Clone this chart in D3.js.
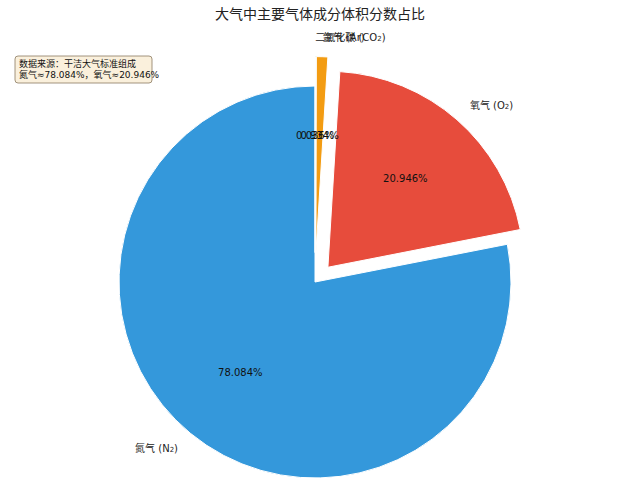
<!DOCTYPE html>
<html>
<head>
<meta charset="utf-8">
<script src="https://cdn.jsdelivr.net/npm/d3@7"></script>
<style>
  body { margin: 0; background: #fff; }
  text { font-family: "DejaVu Sans", "Noto Sans CJK SC", sans-serif; }
</style>
</head>
<body>
<svg id="chart" width="643" height="500"></svg>
<script>
"use strict";

// gas names, split into base text and subscript part
const gasNames = ["氮气 (N", "氧气 (O", "氩气 (Ar)", "二氧化碳 (CO"];
const gasSubs = ["2", "2", "", "2"];
const gasTails = [")", ")", "", ")"];
const gasShares = [78.084, 20.946, 0.934, 0.036];
const gasExplode = [0, 0.1, 0.15, 0.15];
const gasColors = ["#3498db", "#e74c3c", "#f39c12", "#2ecc71"];
const noteLines = ["数据来源：干洁大气标准组成", "氮气≈78.084%，氧气≈20.946%"];

const svg = d3.select("#chart");
const cx = 315, cy = 282, radius = 196;

const data = gasShares.map((v, i) => ({
	name: gasNames[i], sub: gasSubs[i], tail: gasTails[i],
	value: v, explode: gasExplode[i], color: gasColors[i]
}));

// matplotlib style: start at top, go counterclockwise
const pie = d3.pie().sort(null).value(d => d.value)
	.startAngle(0).endAngle(-2 * Math.PI);
const arcs = pie(data);
const arc = d3.arc().innerRadius(0).outerRadius(radius);

function along(a, dist) {
	return [cx + Math.sin(a) * dist, cy - Math.cos(a) * dist];
}

const g = svg.append("g");

g.selectAll("path.wedge")
	.data(arcs)
	.join("path")
	.attr("class", "wedge")
	.attr("d", arc)
	.attr("fill", d => d.data.color)
	.attr("stroke", "#fff")
	.attr("stroke-width", 1)
	.attr("transform", d => {
		const mid = (d.startAngle + d.endAngle) / 2;
		const [x, y] = along(mid, d.data.explode * radius);
		return `translate(${x},${y})`;
	});

// outer labels
g.selectAll("text.label")
	.data(arcs)
	.join("text")
	.attr("class", "label")
	.attr("font-size", 10)
	.attr("fill", "#222")
	.attr("dominant-baseline", "central")
	.each(function(d) {
		const mid = (d.startAngle + d.endAngle) / 2;
		const [x, y] = along(mid, (d.data.explode + 1.1) * radius);
		const t = d3.select(this)
			.attr("x", x).attr("y", y)
			.attr("text-anchor", x >= cx ? "start" : "end");
		t.append("tspan").text(d.data.name);
		if (d.data.sub) {
			t.append("tspan").attr("font-size", 7).attr("dy", 2).text(d.data.sub);
			t.append("tspan").attr("dy", -2).text(d.data.tail);
		}
	});

// percentage labels
g.selectAll("text.pct")
	.data(arcs)
	.join("text")
	.attr("class", "pct")
	.attr("font-size", 10)
	.attr("fill", "#111")
	.attr("text-anchor", "middle")
	.attr("dominant-baseline", "central")
	.attr("x", d => along((d.startAngle + d.endAngle) / 2, (d.data.explode + 0.6) * radius)[0])
	.attr("y", d => along((d.startAngle + d.endAngle) / 2, (d.data.explode + 0.6) * radius)[1])
	.text(d => d3.format(".3f")(d.data.value) + "%");

// title
svg.append("text")
	.attr("x", 320).attr("y", 14)
	.attr("text-anchor", "middle")
	.attr("dominant-baseline", "central")
	.attr("font-size", 14)
	.attr("fill", "#222")
	.text("大气中主要气体成分体积分数占比");

// note box
const note = svg.append("g").attr("transform", "translate(15,56)");
note.append("rect")
	.attr("width", 137).attr("height", 27)
	.attr("rx", 3)
	.attr("fill", "#faf0dc")
	.attr("stroke", "#8a7a60")
	.attr("stroke-width", 0.8);
note.selectAll("text")
	.data(noteLines)
	.join("text")
	.attr("x", 4)
	.attr("y", (d, i) => 7.5 + i * 11.5)
	.attr("dominant-baseline", "central")
	.attr("font-size", 9)
	.attr("fill", "#111")
	.text(d => d);
</script>
</body>
</html>
